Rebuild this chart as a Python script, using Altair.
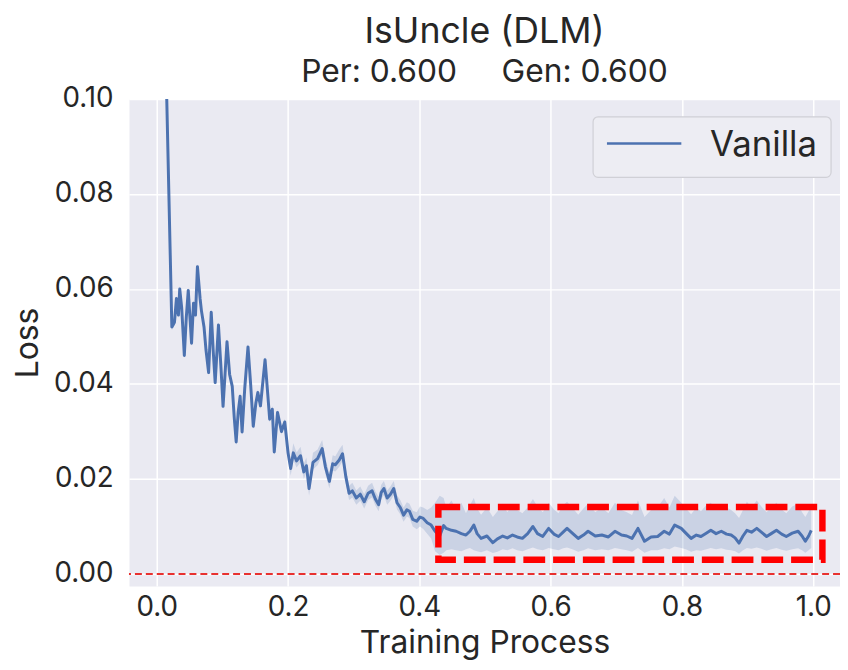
import altair as alt
import pandas as pd

# ---- data ----
progress = [
    0.012, 0.023, 0.027, 0.030, 0.033, 0.035, 0.038, 0.042, 0.045, 0.048,
    0.053, 0.056, 0.059, 0.062, 0.066, 0.068, 0.072, 0.075, 0.079, 0.083,
    0.086, 0.089, 0.094, 0.098, 0.101, 0.104, 0.107, 0.111, 0.115, 0.118,
    0.121, 0.124, 0.127, 0.130, 0.134, 0.139, 0.143, 0.147, 0.151, 0.154,
    0.158, 0.165, 0.169, 0.172, 0.176, 0.179, 0.184, 0.190, 0.195,
    0.200, 0.204, 0.208, 0.213, 0.219, 0.224, 0.228, 0.232, 0.238, 0.245,
    0.252, 0.257, 0.263, 0.268, 0.272, 0.278, 0.283, 0.288, 0.293, 0.298,
    0.304, 0.310, 0.316, 0.322, 0.328, 0.333, 0.338, 0.342, 0.346, 0.351,
    0.356, 0.361, 0.366, 0.371, 0.376, 0.381, 0.385, 0.390, 0.396, 0.401,
    0.406, 0.412, 0.418,
    0.424, 0.431, 0.437, 0.441, 0.449, 0.456, 0.464, 0.471, 0.477, 0.483,
    0.488, 0.494, 0.503, 0.512, 0.519, 0.527, 0.534, 0.542, 0.549, 0.557,
    0.565, 0.573, 0.580, 0.588, 0.597, 0.605, 0.612, 0.619, 0.625, 0.633,
    0.642, 0.650, 0.657, 0.668, 0.678, 0.688, 0.698, 0.708, 0.716, 0.724,
    0.733, 0.743, 0.753, 0.763, 0.773, 0.781, 0.789, 0.799, 0.806, 0.814,
    0.822, 0.829, 0.837, 0.844, 0.852, 0.860, 0.868, 0.875, 0.881, 0.887,
    0.893, 0.899, 0.906, 0.914, 0.921, 0.929, 0.936, 0.944, 0.952, 0.959,
    0.968, 0.977, 0.983, 0.988, 0.993, 0.997,
]

loss = [
    0.1200, 0.0520, 0.0530, 0.0580, 0.0545, 0.0600, 0.0560, 0.0460, 0.0540, 0.0597,
    0.0486, 0.0570, 0.0545, 0.0647, 0.0580, 0.0555, 0.0520, 0.0472, 0.0424, 0.0551,
    0.0470, 0.0403, 0.0524, 0.0430, 0.0353, 0.0420, 0.0489, 0.0420, 0.0395, 0.0330,
    0.0278, 0.0340, 0.0374, 0.0299, 0.0390, 0.0478, 0.0400, 0.0311, 0.0360, 0.0382,
    0.0354, 0.0451, 0.0380, 0.0326, 0.0347, 0.0257, 0.0340, 0.0300, 0.0320,
    0.0255, 0.0222, 0.0255, 0.0238, 0.0249, 0.0215, 0.0228, 0.0180, 0.0235, 0.0243,
    0.0264, 0.0225, 0.0195, 0.0232, 0.0230, 0.0240, 0.0253, 0.0205, 0.0170, 0.0175,
    0.0160, 0.0168, 0.0152, 0.0170, 0.0175, 0.0158, 0.0146, 0.0172, 0.0180, 0.0160,
    0.0168, 0.0180, 0.0150, 0.0140, 0.0124, 0.0135, 0.0132, 0.0115, 0.0111, 0.0120,
    0.0117, 0.0108, 0.0103,
    0.0090, 0.0080, 0.0102, 0.0096, 0.0092, 0.0090, 0.0085, 0.0082, 0.0090, 0.0103,
    0.0085, 0.0075, 0.0080, 0.0066, 0.0074, 0.0080, 0.0076, 0.0082, 0.0078, 0.0075,
    0.0085, 0.0100, 0.0085, 0.0079, 0.0096, 0.0084, 0.0079, 0.0088, 0.0096, 0.0086,
    0.0075, 0.0082, 0.0090, 0.0080, 0.0082, 0.0078, 0.0090, 0.0082, 0.0080, 0.0075,
    0.0096, 0.0069, 0.0078, 0.0079, 0.0090, 0.0084, 0.0103, 0.0096, 0.0086, 0.0075,
    0.0082, 0.0079, 0.0086, 0.0092, 0.0085, 0.0090, 0.0084, 0.0082, 0.0076, 0.0065,
    0.0080, 0.0092, 0.0088, 0.0096, 0.0088, 0.0079, 0.0085, 0.0092, 0.0084, 0.0079,
    0.0086, 0.0090, 0.0080, 0.0069, 0.0080, 0.0092,
]

loss_lo = [
    0.1193, 0.0513, 0.0523, 0.0573, 0.0538, 0.0593, 0.0553, 0.0453, 0.0533, 0.0590,
    0.0479, 0.0563, 0.0538, 0.0640, 0.0573, 0.0548, 0.0513, 0.0465, 0.0417, 0.0544,
    0.0463, 0.0396, 0.0517, 0.0423, 0.0346, 0.0413, 0.0482, 0.0413, 0.0388, 0.0323,
    0.0271, 0.0333, 0.0367, 0.0292, 0.0383, 0.0471, 0.0393, 0.0304, 0.0353, 0.0375,
    0.0347, 0.0444, 0.0373, 0.0319, 0.0340, 0.0250, 0.0333, 0.0293, 0.0313,
    0.0242, 0.0207, 0.0240, 0.0224, 0.0235, 0.0200, 0.0214, 0.0165, 0.0220, 0.0229,
    0.0250, 0.0210, 0.0180, 0.0218, 0.0216, 0.0226, 0.0238, 0.0190, 0.0156, 0.0161,
    0.0146, 0.0154, 0.0138, 0.0156, 0.0161, 0.0144, 0.0132, 0.0158, 0.0166, 0.0146,
    0.0154, 0.0166, 0.0136, 0.0126, 0.0110, 0.0121, 0.0118, 0.0100, 0.0094, 0.0100,
    0.0095, 0.0085, 0.0075,
    0.0048, 0.0040, 0.0045, 0.0050, 0.0052, 0.0050, 0.0048, 0.0052, 0.0055, 0.0050,
    0.0048, 0.0046, 0.0050, 0.0044, 0.0047, 0.0052, 0.0050, 0.0054, 0.0050, 0.0048,
    0.0052, 0.0056, 0.0052, 0.0050, 0.0055, 0.0052, 0.0050, 0.0054, 0.0056, 0.0052,
    0.0047, 0.0050, 0.0054, 0.0050, 0.0052, 0.0050, 0.0055, 0.0052, 0.0050, 0.0047,
    0.0055, 0.0045, 0.0050, 0.0050, 0.0054, 0.0052, 0.0058, 0.0055, 0.0052, 0.0047,
    0.0050, 0.0049, 0.0052, 0.0055, 0.0052, 0.0054, 0.0051, 0.0050, 0.0048, 0.0043,
    0.0050, 0.0055, 0.0053, 0.0056, 0.0053, 0.0049, 0.0052, 0.0055, 0.0051, 0.0049,
    0.0052, 0.0054, 0.0050, 0.0045, 0.0050, 0.0055,
]

loss_hi = [
    0.1207, 0.0527, 0.0537, 0.0587, 0.0552, 0.0607, 0.0567, 0.0467, 0.0547, 0.0604,
    0.0493, 0.0577, 0.0552, 0.0654, 0.0587, 0.0562, 0.0527, 0.0479, 0.0431, 0.0558,
    0.0477, 0.0410, 0.0531, 0.0437, 0.0360, 0.0427, 0.0496, 0.0427, 0.0402, 0.0337,
    0.0285, 0.0347, 0.0381, 0.0306, 0.0397, 0.0485, 0.0407, 0.0318, 0.0367, 0.0389,
    0.0361, 0.0458, 0.0387, 0.0333, 0.0354, 0.0264, 0.0347, 0.0307, 0.0327,
    0.0272, 0.0240, 0.0275, 0.0256, 0.0268, 0.0232, 0.0245, 0.0198, 0.0255, 0.0262,
    0.0282, 0.0243, 0.0212, 0.0250, 0.0248, 0.0262, 0.0272, 0.0222, 0.0186, 0.0192,
    0.0176, 0.0184, 0.0168, 0.0186, 0.0192, 0.0174, 0.0162, 0.0188, 0.0196, 0.0176,
    0.0184, 0.0196, 0.0166, 0.0156, 0.0140, 0.0151, 0.0148, 0.0133, 0.0130, 0.0142,
    0.0140, 0.0135, 0.0140,
    0.0150, 0.0165, 0.0160, 0.0140, 0.0155, 0.0135, 0.0150, 0.0128, 0.0145, 0.0160,
    0.0138, 0.0125, 0.0140, 0.0120, 0.0132, 0.0148, 0.0130, 0.0145, 0.0135, 0.0128,
    0.0140, 0.0158, 0.0142, 0.0130, 0.0150, 0.0136, 0.0128, 0.0145, 0.0152, 0.0140,
    0.0125, 0.0138, 0.0148, 0.0130, 0.0140, 0.0128, 0.0150, 0.0135, 0.0130, 0.0124,
    0.0155, 0.0120, 0.0135, 0.0140, 0.0160, 0.0140, 0.0165, 0.0150, 0.0138, 0.0126,
    0.0140, 0.0132, 0.0145, 0.0150, 0.0136, 0.0148, 0.0140, 0.0135, 0.0128, 0.0118,
    0.0135, 0.0152, 0.0140, 0.0155, 0.0142, 0.0130, 0.0140, 0.0150, 0.0136, 0.0128,
    0.0142, 0.0148, 0.0130, 0.0120, 0.0132, 0.0145,
]

series_name = ["Vanilla"]
x_ticks = [0.0, 0.2, 0.4, 0.6, 0.8, 1.0]
y_ticks = [0.00, 0.02, 0.04, 0.06, 0.08, 0.10]
zero_level = [0.0]
box_x = [0.429, 1.014]
box_y = [0.0030, 0.0141]

assert len(progress) == len(loss) == len(loss_lo) == len(loss_hi)

df = pd.DataFrame({
    "progress": progress,
    "loss": loss,
    "lo": loss_lo,
    "hi": loss_hi,
})
zero_df = pd.DataFrame({"loss": zero_level})
box_df = pd.DataFrame({"x": [box_x[0]], "x2": [box_x[1]], "y": [box_y[0]], "y2": [box_y[1]]})
legend_df = pd.DataFrame({"label": series_name})

FONT = "Inter"
TXT = "#262626"
BLUE = "#4C72B0"
W, H = 717, 491

xscale = alt.Scale(domain=[-0.0423, 1.0408], nice=False, zero=False)
yscale = alt.Scale(domain=[-0.0025, 0.10], nice=False, zero=False)

xaxis = alt.Axis(values=x_ticks, format=".1f", title="Training Process",
                 labelFontSize=28, titleFontSize=32, labelPadding=8, titlePadding=6,
                 grid=True, gridColor="white", gridWidth=1.5, ticks=False, domain=False,
                 labelColor=TXT, titleColor=TXT, labelFont=FONT, titleFont=FONT,
                 titleFontWeight="normal", labelFlush=False)
yaxis = alt.Axis(values=y_ticks, format=".2f", title="Loss",
                 labelFontSize=28, titleFontSize=32, labelPadding=16, titlePadding=9,
                 grid=True, gridColor="white", gridWidth=1.5, ticks=False, domain=False,
                 labelColor=TXT, titleColor=TXT, labelFont=FONT, titleFont=FONT,
                 titleFontWeight="normal", labelFlush=False)

X = alt.X("progress:Q", scale=xscale, axis=xaxis)

band = alt.Chart(df).mark_area(color=BLUE, opacity=0.2, clip=True).encode(
    x=X,
    y=alt.Y("lo:Q", scale=yscale, axis=yaxis),
    y2="hi:Q",
)

line = alt.Chart(df).mark_line(color=BLUE, strokeWidth=3, strokeJoin="round", clip=True).encode(
    x=X,
    y=alt.Y("loss:Q", scale=yscale, axis=yaxis),
)

zero_rule = alt.Chart(zero_df).mark_rule(
    color="#E8312F", strokeDash=[7, 4], strokeWidth=1.8
).encode(y=alt.Y("loss:Q", scale=yscale, axis=yaxis))

box = alt.Chart(box_df).mark_rect(
    fill="transparent", stroke="#FF0000", strokeWidth=6.5, strokeDash=[22, 8]
).encode(
    x=alt.X("x:Q", scale=xscale, axis=xaxis),
    x2="x2:Q",
    y=alt.Y("y:Q", scale=yscale, axis=yaxis),
    y2="y2:Q",
)

# legend frame, key line and label (seaborn-style legend in the upper right)
legend_frame = alt.Chart(legend_df).mark_rect(
    fill="#EDEDF3", stroke="#D0D0D6", strokeWidth=1.2, cornerRadius=5
).encode(x=alt.value(468), x2=alt.value(708), y=alt.value(18), y2=alt.value(79))

legend_key = alt.Chart(legend_df).mark_rule(color=BLUE, strokeWidth=2.5).encode(
    x=alt.value(482), x2=alt.value(557), y=alt.value(45)
)

legend_text = alt.Chart(legend_df).mark_text(
    align="left", baseline="alphabetic", fontSize=35, font=FONT, color=TXT
).encode(x=alt.value(586), y=alt.value(58), text="label:N")

chart = alt.layer(band, line, zero_rule, box, legend_frame, legend_key, legend_text).properties(
    width=W,
    height=H,
    autosize=alt.AutoSizeParams(type="none"),
    padding={"left": 122, "top": 89, "right": 0, "bottom": 72},
    title=alt.TitleParams(
        text="IsUncle (DLM)",
        subtitle="Per: 0.600\u00a0\u00a0\u00a0\u00a0\u00a0Gen: 0.600",
        fontSize=36, subtitleFontSize=32, font=FONT, subtitleFont=FONT,
        fontWeight="normal", color=TXT, subtitleColor=TXT,
        anchor="middle", offset=-4, subtitlePadding=6,
    ),
).configure(
    font=FONT,
    view=alt.ViewConfig(fill="#EAEAF2", stroke="transparent"),
)

chart.save("out.html", embed_options={"renderer": "svg", "actions": False})
